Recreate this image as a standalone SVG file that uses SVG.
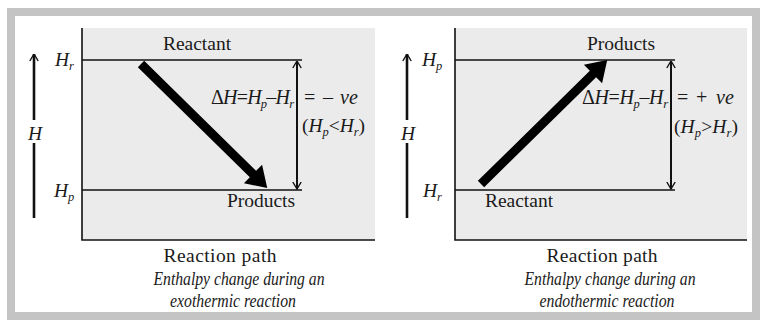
<svg xmlns="http://www.w3.org/2000/svg" width="763" height="329" viewBox="0 0 763 329">
  <style>
    .frame { fill: #ffffff; stroke: #c4c4c4; stroke-width: 8; }
    .plot { fill: #ebebeb; stroke: none; }
    .axis { fill: none; stroke: #111; stroke-width: 1.6; }
    .level { fill: none; stroke: #111; stroke-width: 1.3; }
    .harrow { fill: none; stroke: #111; stroke-width: 2.6; }
    .darrow { fill: none; stroke: #111; stroke-width: 2; }
    .thick { fill: #000; stroke: none; }
    text { font-family: "Liberation Serif", "Times New Roman", serif; fill: #1a1a1a; }
    .lbl { font-size: 19.5px; }
    .eq { font-size: 20px; }
    .it { font-style: italic; }
    .sub { font-size: 12.5px; font-style: italic; }
    .cap { font-size: 18px; font-style: italic; }
  </style>
  <defs>
    <marker id="vhead" viewBox="0 0 8 10" refX="7.5" refY="5" markerWidth="8" markerHeight="10" markerUnits="userSpaceOnUse" orient="auto-start-reverse">
      <path d="M0.5,0.8 L7.5,5 L0.5,9.2" fill="none" stroke="#111" stroke-width="1.4"/>
    </marker>
    <path id="bigArrow" d="M0,-4.5 L157,-4.5 L157,-13 L177,0 L157,13 L157,4.5 L0,4.5 Z"/>
  </defs>

  <rect class="frame" x="11" y="12" width="745" height="304"/>

  <!-- Left panel: exothermic -->
  <g id="exo-panel">
    <rect class="plot" x="82" y="28" width="293" height="212"/>
    <path class="axis" d="M82,28 V240 H375"/>
  </g>
  <g id="exo-levels">
    <line class="level" x1="82" y1="60" x2="302" y2="60"/>
    <line class="level" x1="82" y1="190" x2="302" y2="190"/>
  </g>
  <g id="exo-labels">
    <text class="lbl" x="197" y="50" text-anchor="middle">Reactant</text>
    <text class="lbl" x="261" y="207" text-anchor="middle">Products</text>
    <text class="lbl it" x="55" y="66">H<tspan class="sub" dy="4">r</tspan></text>
    <text class="lbl it" x="54" y="197">H<tspan class="sub" dy="4">p</tspan></text>
    <text class="lbl it" x="35" y="140" text-anchor="middle">H</text>
    <text class="eq" x="211" y="104" textLength="83" lengthAdjust="spacing">Δ<tspan class="it">H</tspan>=<tspan class="it">H</tspan><tspan class="sub" dy="4">p</tspan><tspan dy="-4">–</tspan><tspan class="it">H</tspan><tspan class="sub" dy="4">r</tspan></text>
    <text class="eq" y="104"><tspan x="304">=</tspan><tspan x="323">–</tspan><tspan x="340" class="it">ve</tspan></text>
    <text class="lbl" x="302" y="132" textLength="63" lengthAdjust="spacing">(<tspan class="it">H</tspan><tspan class="sub" dy="4">p</tspan><tspan dy="-4">&lt;</tspan><tspan class="it">H</tspan><tspan class="sub" dy="4">r</tspan><tspan dy="-4">)</tspan></text>
    <text class="lbl" x="220" y="262" text-anchor="middle" textLength="113" lengthAdjust="spacing">Reaction path</text>
    <text class="cap" x="239" y="285" text-anchor="middle" textLength="171" lengthAdjust="spacingAndGlyphs">Enthalpy change during an</text>
    <text class="cap" x="233" y="307" text-anchor="middle" textLength="126" lengthAdjust="spacingAndGlyphs">exothermic reaction</text>
  </g>

  <!-- Right panel: endothermic -->
  <g id="endo-panel">
    <rect class="plot" x="455" y="28" width="292" height="212"/>
    <path class="axis" d="M455,28 V240 H747"/>
  </g>
  <g id="endo-levels">
    <line class="level" x1="455" y1="60" x2="675" y2="60"/>
    <line class="level" x1="455" y1="190" x2="675" y2="190"/>
  </g>
  <g id="endo-labels">
    <text class="lbl" x="621" y="50" text-anchor="middle">Products</text>
    <text class="lbl" x="519" y="207" text-anchor="middle">Reactant</text>
    <text class="lbl it" x="422" y="66">H<tspan class="sub" dy="4">p</tspan></text>
    <text class="lbl it" x="423" y="197">H<tspan class="sub" dy="4">r</tspan></text>
    <text class="lbl it" x="408" y="140" text-anchor="middle">H</text>
    <text class="eq" x="582" y="104" textLength="86" lengthAdjust="spacing">Δ<tspan class="it">H</tspan>=<tspan class="it">H</tspan><tspan class="sub" dy="4">p</tspan><tspan dy="-4">–</tspan><tspan class="it">H</tspan><tspan class="sub" dy="4">r</tspan></text>
    <text class="eq" y="104"><tspan x="677">=</tspan><tspan x="696">+</tspan><tspan x="716" class="it">ve</tspan></text>
    <text class="lbl" x="674" y="133" textLength="64" lengthAdjust="spacing">(<tspan class="it">H</tspan><tspan class="sub" dy="4">p</tspan><tspan dy="-4">&gt;</tspan><tspan class="it">H</tspan><tspan class="sub" dy="4">r</tspan><tspan dy="-4">)</tspan></text>
    <text class="lbl" x="602" y="262" text-anchor="middle" textLength="111" lengthAdjust="spacing">Reaction path</text>
    <text class="cap" x="610" y="285" text-anchor="middle" textLength="171" lengthAdjust="spacingAndGlyphs">Enthalpy change during an</text>
    <text class="cap" x="607" y="307" text-anchor="middle" textLength="135" lengthAdjust="spacingAndGlyphs">endothermic reaction</text>
  </g>

  <g id="connectors">
    <!-- enthalpy axis arrows -->
    <line class="harrow" x1="34" y1="218" x2="34" y2="143"/>
    <line class="harrow" x1="34" y1="120" x2="34" y2="54" marker-end="url(#vhead)"/>
    <line class="harrow" x1="407" y1="218" x2="407" y2="143"/>
    <line class="harrow" x1="407" y1="120" x2="407" y2="54" marker-end="url(#vhead)"/>
    <!-- delta H double arrows -->
    <line class="darrow" x1="297" y1="61" x2="297" y2="189" marker-start="url(#vhead)" marker-end="url(#vhead)"/>
    <line class="darrow" x1="671" y1="61" x2="671" y2="189" marker-start="url(#vhead)" marker-end="url(#vhead)"/>
    <!-- reaction arrows -->
    <use href="#bigArrow" class="thick" transform="translate(141,64) rotate(44.5)"/>
    <use href="#bigArrow" class="thick" transform="translate(481,184) rotate(-44.5)"/>
  </g>
</svg>
